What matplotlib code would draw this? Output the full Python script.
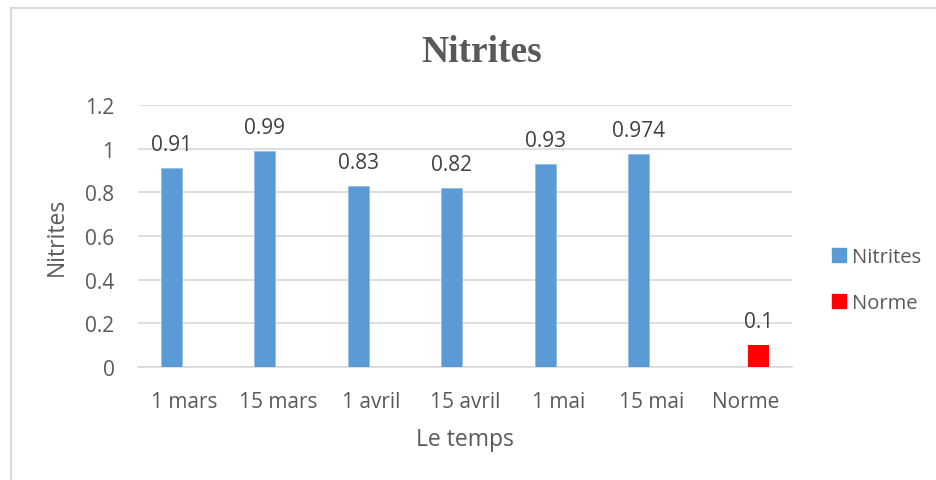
import numpy as np
import matplotlib.pyplot as plt
from matplotlib.lines import Line2D
from matplotlib.patches import Patch

categories = ['1 mars', '15 mars', '1 avril', '15 avril', '1 mai', '15 mai', 'Norme']
nitrites = [0.91, 0.99, 0.83, 0.82, 0.93, 0.974]
norme = [0.1]
nitrites_labels = ['0.91', '0.99', '0.83', '0.82', '0.93', '0.974']
norme_labels = ['0.1']
yticks = [0, 0.2, 0.4, 0.6, 0.8, 1, 1.2]
ytick_labels = ['0', '0.2', '0.4', '0.6', '0.8', '1', '1.2']

blue = '#5B9BD5'
red = '#FF0000'
grey = '#595959'
font = 'Open Sans'

W, H = 937, 481
fig = plt.figure(figsize=(W / 100, H / 100), dpi=100)
# plot area in pixels: x 138..792, y 106..368
ax = fig.add_axes([138 / W, 1 - 368 / H, (792 - 138) / W, (368 - 106) / H])

# light frame around the chart
fig.add_artist(Line2D([11 / W, 11 / W], [0, 1 - 9 / H], color='#D9D9D9', lw=1.5))
fig.add_artist(Line2D([11 / W, 1], [1 - 9 / H, 1 - 9 / H], color='#D9D9D9', lw=1.5))

x = np.arange(len(categories))
w = 0.225
off = 0.143
b1 = ax.bar(x[:6] - off, nitrites, w, color=blue, edgecolor='#8FBCE6', lw=0.5, zorder=3)
b2 = ax.bar(x[6:] + off, norme, w, color=red, zorder=3)

for bars, labs in ((b1, nitrites_labels), (b2, norme_labels)):
    for r, t in zip(bars, labs):
        ax.annotate(t, (r.get_x() + r.get_width() / 2, r.get_height()),
                    xytext=(0, 17), textcoords='offset points', ha='center', va='center',
                    fontsize=15, color='#404040', family=font)

ax.set_xlim(-0.5, len(categories) - 0.5)
ax.set_ylim(0, 1.2)
ax.set_yticks(yticks)
ax.set_yticklabels(ytick_labels)
ax.set_xticks(x)
ax.set_xticklabels(categories)
ax.tick_params(length=0, labelsize=15, labelcolor=grey)
for lab in ax.get_xticklabels() + ax.get_yticklabels():
    lab.set_family(font)
ax.tick_params(axis='x', pad=17)
ax.tick_params(axis='y', pad=17)
ax.grid(axis='y', color='#D9D9D9', lw=1.2, zorder=0)
for s in ('top', 'right', 'left'):
    ax.spines[s].set_visible(False)
ax.spines['bottom'].set_color('#D9D9D9')
ax.spines['bottom'].set_linewidth(1.2)

ax.set_xlabel('Le temps', fontsize=16.5, color=grey, family=font, labelpad=11)
ax.set_ylabel('Nitrites', fontsize=16.5, color=grey, family=font, labelpad=12)

fig.text(482 / W, 1 - 52 / H, 'Nitrites', ha='center', va='center', fontsize=27,
         fontweight='bold', color=grey, family='Liberation Serif')

handles = [Patch(color=blue, label='Nitrites'), Patch(color=red, label='Norme')]
leg = fig.legend(handles=handles, loc='center left', bbox_to_anchor=(814 / W, 1 - 281 / H),
                 frameon=False, handlelength=0.7, handleheight=0.7,
                 handletextpad=0.3, labelspacing=1.3, prop={'family': font, 'size': 14.5})
for t in leg.get_texts():
    t.set_color(grey)

fig.savefig('out.png', dpi=100)
